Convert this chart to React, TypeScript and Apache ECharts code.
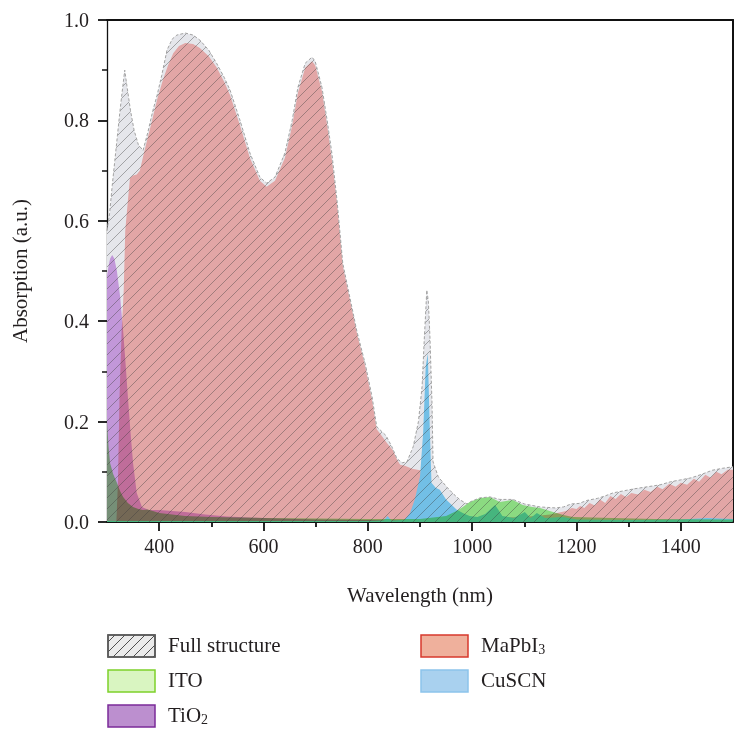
import React, { useEffect, useRef } from 'react';
import * as echarts from 'echarts';

// ---------- data (wavelength nm, absorption a.u.) ----------
const xTickValues = [400, 600, 800, 1000, 1200, 1400];
const xMinorTickValues = [500, 700, 900, 1100, 1300];

const fullStructure: number[][] = [
  [300, 0.58], [305, 0.615], [310, 0.67], [315, 0.72], [320, 0.77], [325, 0.82], [330, 0.865], [334, 0.9],
  [338, 0.87], [345, 0.82], [352, 0.78], [360, 0.752], [369, 0.74], [378, 0.775], [388, 0.82], [396, 0.85],
  [405, 0.89], [415, 0.94], [425, 0.962], [434, 0.97], [450, 0.974], [465, 0.97], [478, 0.96], [495, 0.94],
  [510, 0.914], [525, 0.885], [536, 0.86], [555, 0.8], [574, 0.735], [593, 0.687], [606, 0.675], [622, 0.687],
  [641, 0.735], [655, 0.8], [666, 0.866], [680, 0.914], [693, 0.926], [699, 0.918], [712, 0.866], [722, 0.8],
  [731, 0.735], [741, 0.64], [752, 0.515], [766, 0.445], [779, 0.38], [795, 0.315], [808, 0.25], [817, 0.19],
  [825, 0.182], [835, 0.172], [846, 0.15], [856, 0.126], [866, 0.118], [875, 0.12], [887, 0.15], [897, 0.2],
  [904, 0.27], [908, 0.36], [911, 0.42], [913, 0.462], [916, 0.44], [919, 0.37], [923, 0.237], [925, 0.12],
  [935, 0.09], [951, 0.07], [965, 0.055], [977, 0.044], [990, 0.036], [1000, 0.042], [1015, 0.048],
  [1034, 0.05], [1053, 0.045], [1078, 0.045], [1100, 0.036], [1130, 0.03], [1160, 0.028], [1175, 0.03],
  [1190, 0.036], [1205, 0.037], [1220, 0.043], [1240, 0.047], [1255, 0.052], [1270, 0.058], [1290, 0.062],
  [1310, 0.066], [1335, 0.07], [1360, 0.074], [1380, 0.08], [1400, 0.084], [1420, 0.088], [1440, 0.095],
  [1460, 0.103], [1480, 0.107], [1500, 0.11],
];

const mapbi3: number[][] = [
  [300, 0], [318, 0], [321, 0.08], [324, 0.25], [328, 0.38], [332, 0.46], [335, 0.58], [340, 0.64],
  [344, 0.685], [350, 0.69], [357, 0.692], [363, 0.7], [369, 0.727], [378, 0.765], [388, 0.807], [397, 0.845],
  [407, 0.88], [417, 0.91], [427, 0.934], [438, 0.948], [450, 0.954], [465, 0.952], [478, 0.944], [495, 0.928],
  [510, 0.906], [525, 0.876], [536, 0.85], [555, 0.79], [574, 0.725], [593, 0.68], [606, 0.668], [622, 0.68],
  [641, 0.725], [655, 0.79], [666, 0.855], [680, 0.905], [693, 0.918], [699, 0.91], [712, 0.858], [722, 0.79],
  [731, 0.722], [741, 0.635], [752, 0.51], [766, 0.44], [779, 0.376], [795, 0.31], [808, 0.243], [817, 0.185],
  [823, 0.177], [837, 0.157], [848, 0.143], [856, 0.124], [862, 0.114], [871, 0.112], [885, 0.106],
  [900, 0.103], [910, 0.085], [920, 0.065], [938, 0.044], [955, 0.025], [975, 0.012], [1000, 0.008],
  [1050, 0.008], [1100, 0.01], [1150, 0.015], [1180, 0.022], [1191, 0.028], [1200, 0.026], [1207, 0.032],
  [1215, 0.028], [1225, 0.038], [1235, 0.033], [1245, 0.045], [1255, 0.038], [1265, 0.052], [1275, 0.046],
  [1285, 0.056], [1295, 0.05], [1305, 0.058], [1318, 0.055], [1330, 0.064], [1342, 0.06], [1355, 0.07],
  [1365, 0.065], [1378, 0.076], [1390, 0.07], [1400, 0.078], [1412, 0.074], [1425, 0.086], [1435, 0.08],
  [1447, 0.094], [1457, 0.088], [1468, 0.1], [1478, 0.095], [1490, 0.104], [1500, 0.104],
];

const tio2: number[][] = [
  [300, 0.49], [303, 0.51], [306, 0.525], [310, 0.532], [314, 0.525], [319, 0.5], [325, 0.45], [331, 0.38],
  [336, 0.31], [340, 0.25], [345, 0.18], [350, 0.117], [357, 0.058], [367, 0.03], [380, 0.024], [400, 0.024],
  [450, 0.02], [488, 0.015], [530, 0.011], [600, 0.008], [700, 0.005], [800, 0.004], [900, 0.003],
  [1000, 0.002], [1500, 0.002],
];

const ito: number[][] = [
  [300, 0.2], [303, 0.15], [306, 0.117], [312, 0.095], [319, 0.078], [325, 0.062], [331, 0.05], [340, 0.038],
  [350, 0.03], [360, 0.026], [369, 0.024], [378, 0.025], [388, 0.022], [400, 0.018], [450, 0.012], [500, 0.01],
  [600, 0.008], [700, 0.007], [800, 0.006], [900, 0.006], [950, 0.012], [970, 0.022], [982, 0.03],
  [995, 0.04], [1015, 0.048], [1034, 0.05], [1053, 0.04], [1065, 0.042], [1078, 0.044], [1097, 0.034],
  [1115, 0.03], [1130, 0.028], [1155, 0.02], [1175, 0.014], [1193, 0.01], [1270, 0.008], [1350, 0.006],
  [1500, 0.005],
];

const cuscn: number[][] = [
  [300, 0.002], [800, 0.002], [830, 0.003], [838, 0.012], [845, 0.003], [870, 0.004], [881, 0.018],
  [890, 0.045], [900, 0.09], [906, 0.177], [911, 0.31], [915, 0.336], [919, 0.177], [922, 0.078],
  [930, 0.068], [938, 0.064], [950, 0.045], [960, 0.035], [970, 0.025], [982, 0.018], [995, 0.012],
  [1010, 0.01], [1025, 0.016], [1044, 0.034], [1058, 0.012], [1080, 0.008], [1101, 0.02], [1112, 0.008],
  [1124, 0.018], [1140, 0.008], [1174, 0.01], [1200, 0.005], [1300, 0.004], [1400, 0.005], [1450, 0.008],
  [1500, 0.006],
];

// ---------- styles ----------
const FONT = "'Liberation Serif', 'DejaVu Serif', serif";
const TEXT = '#231f20';
const GRAY_FILL = '#e5e6eb';
const RED = '#fcb8b4';
const PURPLE = '#d8a8ec';
const GREEN = '#9bf28c';
const BLUE = '#72bfe6';
const BLEND_COLORS = [RED, PURPLE, GREEN];

function hexToRgb(h: string) {
  const n = parseInt(h.slice(1), 16);
  return `rgb(${(n >> 16) & 255},${(n >> 8) & 255},${n & 255})`;
}

function makeHatch(size: number, color: string, bg?: string) {
  const c = document.createElement('canvas');
  c.width = size;
  c.height = size;
  const ctx = c.getContext('2d')!;
  if (bg) {
    ctx.fillStyle = bg;
    ctx.fillRect(0, 0, size, size);
  }
  ctx.strokeStyle = color;
  ctx.lineWidth = 1;
  ctx.beginPath();
  ctx.moveTo(-1, size + 1);
  ctx.lineTo(size + 1, -1);
  ctx.moveTo(-1, 1);
  ctx.lineTo(1, -1);
  ctx.moveTo(size - 1, size + 1);
  ctx.lineTo(size + 1, size - 1);
  ctx.stroke();
  return { image: c, repeat: 'repeat', imageWidth: size, imageHeight: size } as any;
}

function applyBlend(root: HTMLElement) {
  const targets = new Set<string>();
  BLEND_COLORS.forEach((c) => {
    targets.add(c.toLowerCase());
    targets.add(hexToRgb(c));
  });
  const svg = root.querySelector('svg');
  root.querySelectorAll('path').forEach((p) => {
    const f = (p.getAttribute('fill') || '').toLowerCase().replace(/\s+/g, '');
    if (!targets.has(f)) return;
    (p as unknown as SVGElement).style.mixBlendMode = 'multiply';
    let node = p.parentElement;
    while (node && node !== svg) {
      if (node.hasAttribute('clip-path') || node.hasAttribute('opacity')) {
        (node as unknown as SVGElement).style.mixBlendMode = 'multiply';
      }
      node = node.parentElement;
    }
  });
}

function areaSeries(name: string, data: number[][], color: any, extra: any = {}) {
  return {
    type: 'line',
    name,
    data,
    symbol: 'none',
    showSymbol: false,
    silent: true,
    clip: false,
    xAxisIndex: 0,
    yAxisIndex: 0,
    lineStyle: { width: 0, opacity: 0 },
    areaStyle: { color, opacity: 1 },
    ...extra,
  };
}

export default function App() {
  const ref = useRef<HTMLDivElement>(null);

  useEffect(() => {
    const el = ref.current!;
    const chart = echarts.init(el, null, { renderer: 'svg' });

    const plotHatch = makeHatch(11, 'rgba(60,60,60,0.4)');
    const legendHatch = makeHatch(10, 'rgba(50,50,50,0.85)');

    const legendRow = (x: number, y: number, fill: any, stroke: string, text: string, rich = false) => {
      const els: any[] = [
        {
          type: 'rect',
          shape: { x, y, width: 47, height: 22 },
          style: { fill: typeof fill === 'string' ? fill : '#ebebeb', stroke, lineWidth: 1.5 },
        },
      ];
      if (typeof fill !== 'string') {
        els.push({
          type: 'rect',
          shape: { x, y, width: 47, height: 22 },
          style: { fill, stroke, lineWidth: 1.5 },
        });
      }
      els.push({
        type: 'text',
        x: x + 60,
        y: y + 10,
        style: {
          text,
          fontSize: 21,
          fontFamily: FONT,
          fill: TEXT,
          verticalAlign: 'middle',
          align: 'left',
          rich: rich
            ? { s: { fontSize: 14, fontFamily: FONT, fill: TEXT, padding: [9, 0, 0, 0] } }
            : undefined,
        },
      });
      return els;
    };

    const option: any = {
      animation: false,
      backgroundColor: '#ffffff',
      grid: { left: 107, right: 2, top: 20, bottom: 209, containLabel: false },
      xAxis: [
        {
          type: 'value',
          min: 300,
          max: 1500,
          position: 'bottom',
          splitLine: { show: false },
          axisLine: { show: true, onZero: false, lineStyle: { color: '#111', width: 2 } },
          axisTick: { show: true, customValues: xTickValues, length: 9, lineStyle: { color: '#111', width: 1.8 } },
          axisLabel: {
            customValues: xTickValues,
            fontSize: 20,
            fontFamily: FONT,
            color: TEXT,
            margin: 14,
            formatter: (v: number) => String(v),
          },
          name: 'Wavelength (nm)',
          nameLocation: 'middle',
          nameGap: 62,
          nameTextStyle: { fontSize: 21, fontFamily: FONT, color: TEXT },
        },
        {
          type: 'value',
          min: 300,
          max: 1500,
          position: 'bottom',
          splitLine: { show: false },
          axisLine: { show: false },
          axisTick: { show: true, customValues: xMinorTickValues, length: 5, lineStyle: { color: '#111', width: 1.8 } },
          axisLabel: { show: false },
        },
        {
          type: 'value',
          min: 300,
          max: 1500,
          position: 'top',
          splitLine: { show: false },
          axisLine: { show: true, onZero: false, lineStyle: { color: '#111', width: 2 } },
          axisTick: { show: false },
          axisLabel: { show: false },
        },
      ],
      yAxis: [
        {
          type: 'value',
          min: 0,
          max: 1,
          interval: 0.2,
          position: 'left',
          splitLine: { show: false },
          axisLine: { show: true, onZero: false, lineStyle: { color: '#111', width: 1.3 } },
          axisTick: { show: true, length: 9, lineStyle: { color: '#111', width: 1.8 } },
          minorTick: { show: true, splitNumber: 2, length: 5, lineStyle: { color: '#111', width: 1.5 } },
          minorSplitLine: { show: false },
          axisLabel: {
            fontSize: 20,
            fontFamily: FONT,
            color: TEXT,
            margin: 18,
            formatter: (v: number) => v.toFixed(1),
          },
          name: 'Absorption (a.u.)',
          nameLocation: 'middle',
          nameGap: 77,
          nameRotate: 90,
          nameTextStyle: { fontSize: 21, fontFamily: FONT, color: TEXT },
        },
        {
          type: 'value',
          min: 0,
          max: 1,
          position: 'right',
          splitLine: { show: false },
          axisLine: { show: true, onZero: false, lineStyle: { color: '#111', width: 2 } },
          axisTick: { show: false },
          axisLabel: { show: false },
        },
      ],
      series: [
        areaSeries('Full structure fill', fullStructure, GRAY_FILL),
        areaSeries('MaPbI3', mapbi3, RED),
        areaSeries('TiO2', tio2, PURPLE),
        areaSeries('CuSCN', cuscn, BLUE),
        areaSeries('ITO', ito, GREEN),
        areaSeries('Full structure', fullStructure, plotHatch, {
          lineStyle: { color: '#a2a2a2', width: 1, type: [3, 2] },
        }),
      ],
      graphic: {
        elements: [
          ...legendRow(108, 635, legendHatch, '#5a5a5a', 'Full structure'),
          ...legendRow(108, 670, '#d9f5c1', '#7dd12a', 'ITO'),
          ...legendRow(108, 705, '#bc8fcf', '#7b2b99', 'TiO{s|2}', true),
          ...legendRow(421, 635, '#efb09c', '#d7392c', 'MaPbI{s|3}', true),
          ...legendRow(421, 670, '#a9d1ef', '#8cc4ec', 'CuSCN'),
        ],
      },
    };

    chart.setOption(option);
    applyBlend(el);
    chart.on('finished', () => applyBlend(el));
    const t = window.setTimeout(() => applyBlend(el), 50);
    const raf = requestAnimationFrame(() => applyBlend(el));

    return () => {
      window.clearTimeout(t);
      cancelAnimationFrame(raf);
      chart.dispose();
    };
  }, []);

  return (
    <div
      ref={ref}
      style={{ position: 'fixed', left: 0, top: 0, width: 735, height: 731, background: '#fff' }}
    />
  );
}
